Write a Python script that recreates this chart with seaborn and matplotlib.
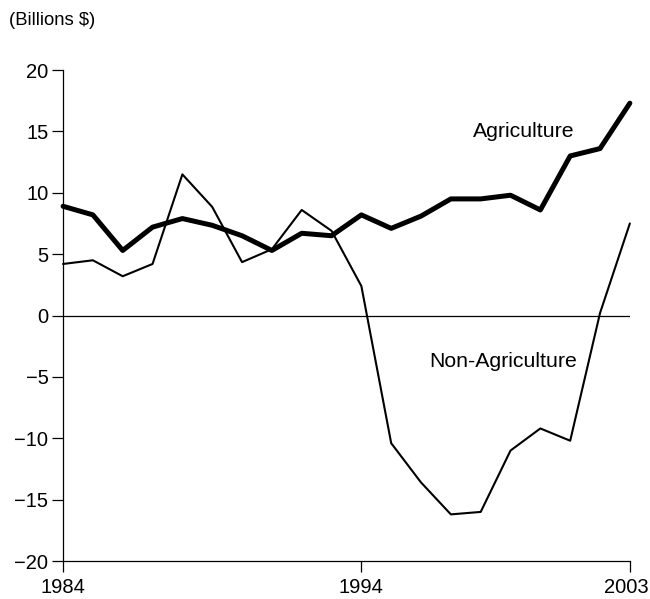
import numpy as np
import pandas as pd
import matplotlib
matplotlib.use("Agg")
import matplotlib.pyplot as plt
import matplotlib.transforms as mtransforms
import seaborn as sns

years = list(range(1984, 2004))
agriculture = [8.9, 8.2, 5.3, 7.2, 7.9, 7.35, 6.5, 5.3, 6.7, 6.5,
               8.2, 7.1, 8.1, 9.5, 9.5, 9.8, 8.6, 13.0, 13.6, 17.3]
non_agriculture = [4.2, 4.5, 3.2, 4.2, 11.5, 8.85, 4.35, 5.4, 8.6, 6.9,
                   2.4, -10.4, -13.6, -16.2, -16.0, -11.0, -9.2, -10.2, 0.2, 7.5]
x_ticks = [1984, 1994, 2003]
y_ticks = [-20, -15, -10, -5, 0, 5, 10, 15, 20]
y_tick_labels = ["\u221220", "\u221215", "\u221210", "\u22125", "0", "5", "10", "15", "20"]

df = pd.DataFrame({"Year": years, "Agriculture": agriculture,
                   "Non-Agriculture": non_agriculture})

sns.set_style("ticks")
plt.rcParams["font.family"] = ["Liberation Sans", "DejaVu Sans"]

fig = plt.figure(figsize=(6.5, 5.99), dpi=100)
ax = fig.add_axes([0.097, 0.0634, 0.872, 0.8197])

sns.lineplot(data=df, x="Year", y="Agriculture", ax=ax, color="black",
             linewidth=3.6, clip_on=False)
sns.lineplot(data=df, x="Year", y="Non-Agriculture", ax=ax, color="black",
             linewidth=1.5, clip_on=False)
ax.axhline(0, color="black", linewidth=0.9)

ax.set_xlim(1984, 2003)
ax.set_ylim(-20, 20)
ax.set_xticks(x_ticks)
ax.set_yticks(y_ticks)
ax.set_yticklabels(y_tick_labels)
ax.set_xlabel("")
ax.set_ylabel("")
ax.tick_params(axis="both", labelsize=14.5, length=8, width=0.9, color="black",
               labelcolor="black", direction="out")
ax.tick_params(axis="x", pad=4)
ax.tick_params(axis="y", pad=2.5)
sns.despine(ax=ax)
for s in ["left", "bottom"]:
    ax.spines[s].set_linewidth(0.9)
    ax.spines[s].set_color("black")

# nudge the last year label so it stays inside the figure
last = ax.get_xticklabels()[-1]
last.set_transform(last.get_transform() +
                   mtransforms.ScaledTranslation(-4 / 100, 0, fig.dpi_scale_trans))

ax.text(1999.44, 15.0, "Agriculture", fontsize=15.3, ha="center", va="center",
        color="black")
ax.text(1998.74, -3.73, "Non-Agriculture", fontsize=15.3, ha="center", va="center",
        color="black")
fig.text(0.014, 0.965, "(Billions $)", fontsize=13.3, ha="left", va="center",
         color="black")

fig.savefig("out.png", dpi=100)
